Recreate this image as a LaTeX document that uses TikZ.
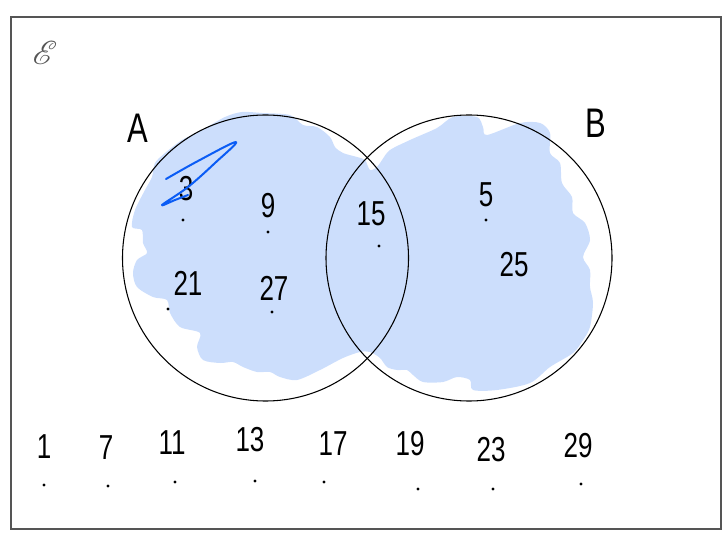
\documentclass[tikz,border=0pt]{standalone}
\usepackage{fontspec}
\usepackage{mathrsfs}
\usepackage{xcolor}
\usetikzlibrary{positioning}
\newfontfamily\handfont[FakeStretch=0.75]{Liberation Sans}
\definecolor{setshade}{HTML}{CCDEFC}
\definecolor{penblue}{HTML}{0A5CF5}
\definecolor{framegray}{HTML}{555555}

\begin{document}
\begin{tikzpicture}[
    x=0.75pt, y=-0.75pt,
    num/.style={font=\handfont\fontsize{26}{26}\selectfont, inner sep=0pt},
    setname/.style={font=\handfont\fontsize{31}{31}\selectfont, inner sep=0pt},
    setcirc/.style={circle, draw=black, line width=0.8pt, minimum size=214.5pt, inner sep=0pt},
    speck/.style={circle, fill=black, inner sep=0pt, minimum size=2.6pt}
]
    \useasboundingbox (0,0) rectangle (724,541);

    % universal set
    \draw[framegray, line width=1.1pt] (11,17) rectangle (721,529);
    \node[text=framegray, font=\fontsize{26}{26}\selectfont, inner sep=0pt] (univ) at (45,53) {$\mathscr{E}$};

    % shading over A union B
    \fill[setshade] plot[smooth cycle, tension=0.5] coordinates {
        (225,117) (242,112) (262,113) (290,115) (303,125) (317,127)
        (330,137) (335,147) (343,153) (357,157) (365,160) (370,170)
        (377,167) (382,160) (390,150) (410,140) (437,128) (453,117)
        (477,117) (483,127) (487,135) (520,123) (540,123) (550,133)
        (550,153) (560,163) (562,183) (572,197) (573,213) (585,223)
        (590,240) (583,257) (590,270) (590,287) (593,303) (590,327)
        (583,340) (573,353) (550,367) (530,383) (497,390) (473,390)
        (470,380) (457,377) (443,382) (423,382) (413,375) (407,370)
        (397,370) (387,367) (380,358) (370,352) (360,352) (343,358)
        (320,370) (297,380) (280,377) (270,372) (257,372) (243,367)
        (233,362) (220,363) (203,360) (197,347) (200,333) (180,327)
        (170,313) (167,300) (153,297) (137,287) (133,273) (137,260)
        (147,253) (143,243) (142,230) (132,227) (135,210) (145,190)
        (152,177) (155,163) (165,153) (182,140) (202,130)
    };

    % the two sets
    \node[setcirc] (setA) at (265.5,258) {};
    \node[setcirc] (setB) at (469,258) {};
    \node[setname] (labA) at (138,128) {A};
    \node[setname] (labB) at (596,123) {B};

    % elements of A and B
    \node[num] (n3) at (186,189) {3};
    \node[num] (n9) at (268,206) {9};
    \node[num] (n15) at (371,214) {15};
    \node[num] (n5) at (486,195) {5};
    \node[num] (n25) at (514,265) {25};
    \node[num] (n21) at (188,283) {21};
    \node[num] (n27) at (274,288) {27};

    \node[speck] (d3) at (183,220) {};
    \node[speck] (d9) at (268,232) {};
    \node[speck] (d15) at (379,246) {};
    \node[speck] (d5) at (486,220) {};
    \node[speck] (d21) at (168,309) {};
    \node[speck] (d27) at (272,312) {};

    % crossing-out stroke on 3
    \draw[penblue, line width=1.5pt, line cap=round, line join=round]
        plot[smooth, tension=0.6] coordinates {
            (166,179) (198,161) (236,142) (215,163) (188,187) (162,205) (175,200) (188,195)
        };

    % elements outside A and B
    \node[num] (n1) at (44,447) {1};
    \node[num] (n7) at (106,448) {7};
    \node[num] (n11) at (172,443) {11};
    \node[num] (n13) at (250,440) {13};
    \node[num] (n17) at (333,444) {17};
    \node[num] (n19) at (410,444) {19};
    \node[num] (n23) at (491,450) {23};
    \node[num] (n29) at (578,446) {29};

    \node[speck] (d1) at (44,485) {};
    \node[speck] (d7) at (108,486) {};
    \node[speck] (d11) at (175,482) {};
    \node[speck] (d13) at (255,481) {};
    \node[speck] (d17) at (324,482) {};
    \node[speck] (d19) at (418,489) {};
    \node[speck] (d23) at (493,489) {};
    \node[speck] (d29) at (581,484) {};
\end{tikzpicture}
\end{document}
